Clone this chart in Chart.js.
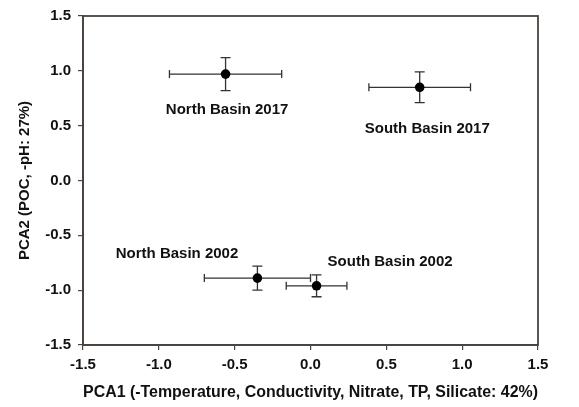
<!DOCTYPE html>
<html>
<head>
<meta charset="utf-8">
<script src="https://cdn.jsdelivr.net/npm/chart.js@4"></script>
<style>
  html, body { margin: 0; padding: 0; background: #fff; }
  #wrap { width: 579px; height: 407px; }
</style>
</head>
<body>
<div id="wrap"><canvas id="grafico" width="579" height="407"></canvas></div>
<script>
// dados
const grupos = ['North Basin 2017', 'South Basin 2017', 'North Basin 2002', 'South Basin 2002'];
const pca1 = [-0.56, 0.72, -0.35, 0.04];
const pca2 = [0.97, 0.85, -0.89, -0.96];
const erroX = [0.37, 0.335, 0.35, 0.2];
const erroY = [0.15, 0.14, 0.11, 0.10];
// posição dos rótulos (unidades dos eixos)
const rotuloX = [-0.55, 0.77, -0.88, 0.525];
const rotuloY = [0.645, 0.47, -0.67, -0.745];
const ticksX = [-1.5, -1.0, -0.5, 0.0, 0.5, 1.0, 1.5];
const ticksY = [-1.5, -1.0, -0.5, 0.0, 0.5, 1.0, 1.5];

const fonte = 'Liberation Sans, Arial, sans-serif';
const corEixo = '#4a4440';

const pontos = pca1.map((x, i) => ({ x: x, y: pca2[i] }));

const barrasErro = {
    id: 'barrasErro',
    afterDatasetsDraw(chart) {
        const ctx = chart.ctx;
        const sx = chart.scales.x, sy = chart.scales.y;
        const a = chart.chartArea;
        ctx.save();
        // moldura
        ctx.strokeStyle = corEixo;
        ctx.lineWidth = 1.8;
        ctx.strokeRect(a.left, a.top, a.right - a.left, a.bottom - a.top);
        // barras de erro
        ctx.strokeStyle = '#333';
        ctx.lineWidth = 1.3;
        const capH = 4, capV = 5;
        pca1.forEach((x, i) => {
            const px = sx.getPixelForValue(x), py = sy.getPixelForValue(pca2[i]);
            const x0 = sx.getPixelForValue(x - erroX[i]), x1 = sx.getPixelForValue(x + erroX[i]);
            const y0 = sy.getPixelForValue(pca2[i] + erroY[i]), y1 = sy.getPixelForValue(pca2[i] - erroY[i]);
            ctx.beginPath();
            ctx.moveTo(x0, py); ctx.lineTo(x1, py);
            ctx.moveTo(x0, py - capH); ctx.lineTo(x0, py + capH);
            ctx.moveTo(x1, py - capH); ctx.lineTo(x1, py + capH);
            ctx.moveTo(px, y0); ctx.lineTo(px, y1);
            ctx.moveTo(px - capV, y0); ctx.lineTo(px + capV, y0);
            ctx.moveTo(px - capV, y1); ctx.lineTo(px + capV, y1);
            ctx.stroke();
            ctx.fillStyle = '#000';
            ctx.beginPath();
            ctx.arc(px, py, 4.8, 0, Math.PI * 2);
            ctx.fill();
        });
        // rótulos
        ctx.fillStyle = '#111';
        ctx.font = 'bold 15px ' + fonte;
        ctx.textAlign = 'center';
        ctx.textBaseline = 'middle';
        grupos.forEach((g, i) => {
            ctx.fillText(g, sx.getPixelForValue(rotuloX[i]), sy.getPixelForValue(rotuloY[i]));
        });
        ctx.restore();
    }
};

new Chart(document.getElementById('grafico').getContext('2d'), {
    type: 'scatter',
    data: {
        datasets: [{
            label: 'PCA',
            data: pontos,
            pointRadius: 0,
            pointBackgroundColor: '#000',
            showLine: false
        }]
    },
    options: {
        responsive: false,
        animation: false,
        layout: { padding: { left: 0, right: 41, top: 15, bottom: 0 } },
        plugins: { legend: { display: false }, tooltip: { enabled: false } },
        scales: {
            x: {
                type: 'linear',
                min: -1.5, max: 1.5,
                afterBuildTicks: s => { s.ticks = ticksX.map(v => ({ value: v })); },
                afterFit: s => { s.height = 62; },
                grid: { drawOnChartArea: false, drawTicks: true, tickLength: 5, color: corEixo, lineWidth: 1.2 },
                border: { display: true, color: corEixo, width: 1.8 },
                ticks: {
                    color: '#111',
                    padding: 6,
                    maxRotation: 0,
                    font: { family: fonte, size: 15, weight: 'bold' },
                    callback: v => v.toFixed(1)
                },
                title: {
                    display: true,
                    text: 'PCA1 (-Temperature, Conductivity, Nitrate, TP, Silicate: 42%)',
                    color: '#111',
                    font: { family: fonte, size: 16, weight: 'bold' },
                    padding: { top: 0, bottom: 5 }
                }
            },
            y: {
                type: 'linear',
                min: -1.5, max: 1.5,
                afterBuildTicks: s => { s.ticks = ticksY.map(v => ({ value: v })); },
                afterFit: s => { s.width = 83; },
                grid: { drawOnChartArea: false, drawTicks: true, tickLength: 5, color: corEixo, lineWidth: 1.2 },
                border: { display: true, color: corEixo, width: 1.8 },
                ticks: {
                    color: '#111',
                    padding: 7,
                    font: { family: fonte, size: 15, weight: 'bold' },
                    callback: v => v.toFixed(1)
                },
                title: {
                    display: true,
                    text: 'PCA2 (POC, -pH: 27%)',
                    color: '#111',
                    font: { family: fonte, size: 15, weight: 'bold' },
                    padding: { top: 16, bottom: 0 }
                }
            }
        }
    },
    plugins: [barrasErro]
});
</script>
</body>
</html>
